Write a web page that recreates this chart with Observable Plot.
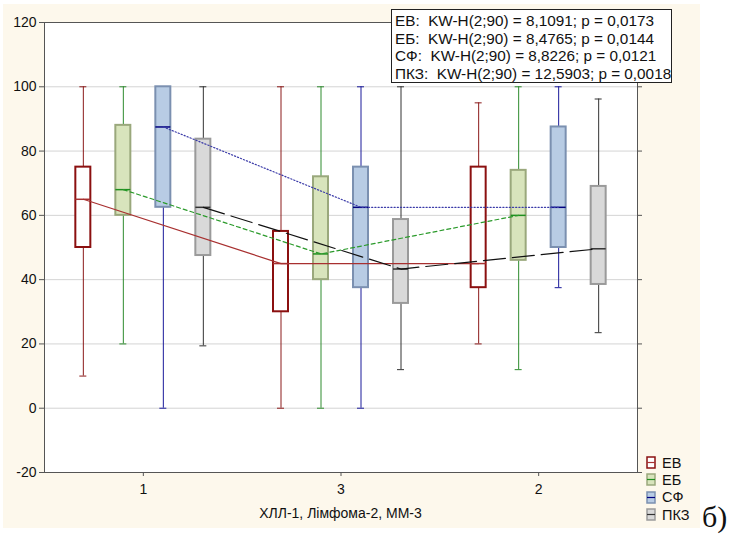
<!DOCTYPE html>
<html>
<head>
<meta charset="utf-8">
<script src="https://cdn.jsdelivr.net/npm/d3@7"></script>
<script src="https://cdn.jsdelivr.net/npm/@observablehq/plot@0.6"></script>
<style>
  body { margin: 0; background: #ffffff; }
  #wrap { position: relative; width: 731px; height: 540px; font-family: "Liberation Sans", Arial, sans-serif; color: #111; }
  #bg { position: absolute; left: 3px; top: 4px; width: 697px; height: 524px; background: #fdf8ec; }
  #chart { position: absolute; left: 0; top: 0; }
  #stats { position: absolute; left: 391px; top: 9px; width: 281px; height: 74px; border: 1px solid #222; background: #fff;
           font-size: 15.3px; line-height: 17.6px; padding: 2px 0 0 3px; box-sizing: border-box; white-space: pre; }
  #legend { position: absolute; left: 646px; top: 454px; font-size: 14.5px; }
  .lg { height: 17.3px; display: flex; align-items: center; }
  .lg svg { margin-right: 6px; }
  #xlabel { position: absolute; left: 44px; width: 593px; top: 505px; text-align: center; font-size: 14px; }
  #tag { position: absolute; left: 702px; top: 500px; font-family: "Liberation Serif", "DejaVu Serif", serif; font-size: 30px; }
</style>
</head>
<body>
<div id="wrap">
  <div id="bg"></div>
  <div id="chart"></div>
  <div id="xlabel"></div>
  <div id="stats"></div>
  <div id="legend"></div>
  <div id="tag">б)</div>
</div>
<script>
// ---- data ----
const groupLabels = ["1", "3", "2"];            // x tick labels, in display order
const xAxisTitle = "ХЛЛ-1, Лімфома-2, ММ-3";
const seriesNames = ["ЕВ", "ЕБ", "СФ", "ПКЗ"];
const yTicks = [-20, 0, 20, 40, 60, 80, 100, 120];
// [series][group]
const minVals = [[10, 0, 20], [20, 0, 12], [0, 0, 37.5], [19.4, 12, 23.5]];
const q1Vals  = [[50, 30, 37.5], [60, 40, 46], [62.5, 37.5, 50], [47.5, 32.6, 38.5]];
const medVals = [[65, 45, 45], [68, 48, 60], [87.5, 62.5, 62.5], [62.5, 43.3, 49.6]];
const q3Vals  = [[75, 55, 75], [88, 72, 74], [100, 75, 87.5], [83.7, 58.7, 69]];
const maxVals = [[100, 100, 95], [100, 100, 100], [100, 100, 100], [100, 100, 96.2]];
const statLines = [
  "ЕВ:  KW-H(2;90) = 8,1091; p = 0,0173",
  "ЕБ:  KW-H(2;90) = 8,4765; p = 0,0144",
  "СФ:  KW-H(2;90) = 8,8226; p = 0,0121",
  "ПКЗ:  KW-H(2;90) = 12,5903; p = 0,0018"
];

// ---- styles ----
const boxFill    = ["#ffffff", "#d8e4bc", "#b8cce4", "#d9d9d9"];
const boxStroke  = ["#8b1010", "#9aa87c", "#7b90b0", "#9a9a9a"];
const whiskCol   = ["#8b1a1a", "#2e8b2e", "#1a1a9a", "#333333"];
const medCol     = ["#a83232", "#1f8f1f", "#000080", "#333333"];
const lineCol    = ["#a83030", "#2a9a2a", "#3a3aa8", "#111111"];
const lineDash   = [null, "4,3", "1.2,2", "22,7"];

const marks = [
  Plot.frame({fill: "#ffffff", stroke: "none"}),
  Plot.gridY({ticks: yTicks.filter(t => t > -20 && t < 120), stroke: "#d4d4d4", strokeOpacity: 1}),
];

seriesNames.forEach((name, si) => {
  const rows = groupLabels.map((g, gi) => ({
    gi, min: minVals[si][gi], q1: q1Vals[si][gi], med: medVals[si][gi], q3: q3Vals[si][gi], max: maxVals[si][gi]
  }));
  const dx = (si - 1.5) * 40;
  marks.push(
    Plot.ruleX(rows, {x: "gi", y1: "min", y2: "max", dx, stroke: whiskCol[si], strokeWidth: 1}),
    Plot.ruleY(rows, {x1: "gi", x2: "gi", y: "min", dx, insetLeft: -3.5, insetRight: -3.5, stroke: whiskCol[si]}),
    Plot.ruleY(rows, {x1: "gi", x2: "gi", y: "max", dx, insetLeft: -3.5, insetRight: -3.5, stroke: whiskCol[si]}),
    Plot.rect(rows, {x1: "gi", x2: "gi", y1: "q1", y2: "q3", dx, insetLeft: -7.5, insetRight: -7.5,
                     fill: boxFill[si], stroke: boxStroke[si], strokeWidth: 2}),
    Plot.ruleY(rows, {x1: "gi", x2: "gi", y: "med", dx, insetLeft: -7.5, insetRight: -7.5, stroke: medCol[si], strokeWidth: 1.5})
  );
});
seriesNames.forEach((name, si) => {
  const rows = groupLabels.map((g, gi) => ({gi, med: medVals[si][gi]}));
  const dx = (si - 1.5) * 40;
  marks.push(Plot.line(rows, {x: "gi", y: "med", dx, stroke: lineCol[si], strokeWidth: 1.2,
                              strokeDasharray: lineDash[si] || undefined}));
});

marks.push(
  Plot.frame({stroke: "#555555", strokeWidth: 1}),
  Plot.axisY({ticks: yTicks, tickSize: 5, tickPadding: 3, tickFormat: d => String(d), label: null, stroke: "#555"}),
  Plot.axisY({anchor: "right", ticks: yTicks, tickSize: 4, tickFormat: () => "", label: null, stroke: "#555"}),
  Plot.axisX({ticks: [0, 1, 2], tickFormat: i => groupLabels[i], tickSize: 4, tickPadding: 8, label: null, stroke: "#555"})
);

const chart = Plot.plot({
  width: 731, height: 540,
  marginLeft: 44, marginRight: 94, marginTop: 22, marginBottom: 68,
  x: {domain: [-0.5, 2.5]},
  y: {domain: [-20, 120]},
  style: {background: "transparent", fontFamily: "Liberation Sans, Arial, sans-serif", fontSize: "14px", color: "#111"},
  marks
});
document.getElementById("chart").appendChild(chart);

document.getElementById("xlabel").textContent = xAxisTitle;
document.getElementById("stats").textContent = statLines.join("\n");

const legend = document.getElementById("legend");
seriesNames.forEach((name, si) => {
  const row = document.createElement("div");
  row.className = "lg";
  row.innerHTML = `<svg width="10" height="13"><rect x="1" y="1" width="8" height="11" fill="${boxFill[si]}" stroke="${boxStroke[si]}" stroke-width="1.5"/><line x1="1" x2="9" y1="6.5" y2="6.5" stroke="${medCol[si]}" stroke-width="1.2"/></svg>`;
  const t = document.createElement("span");
  t.textContent = name;
  row.appendChild(t);
  legend.appendChild(row);
});
</script>
</body>
</html>
